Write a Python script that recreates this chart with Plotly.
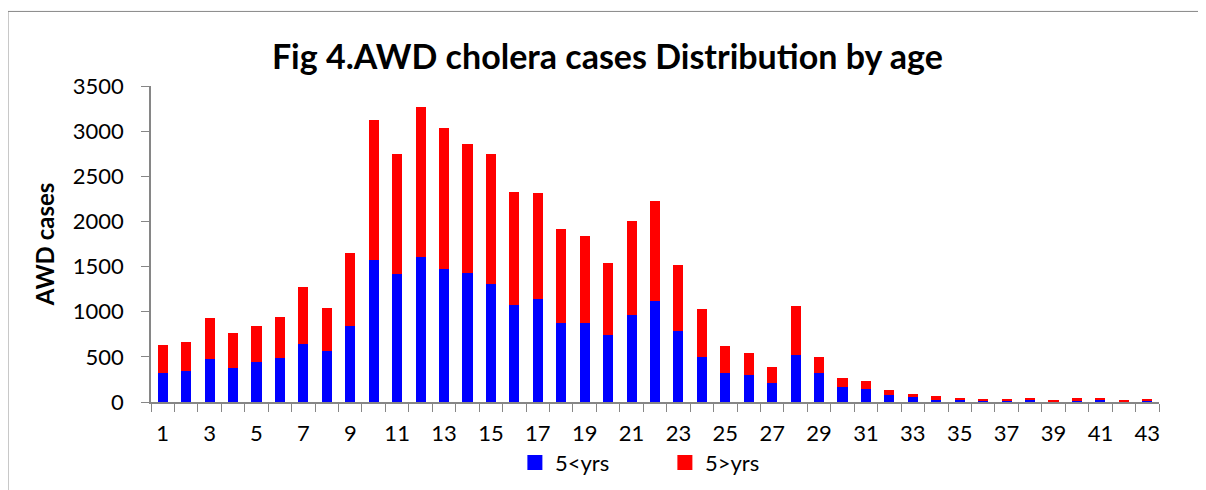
import plotly.graph_objects as go

ages = list(range(1, 44))
under5 = [320, 339, 475, 372, 446, 486, 637, 564, 840, 1573,
          1422, 1603, 1477, 1433, 1312, 1079, 1142, 880, 877, 740,
          965, 1116, 785, 501, 324, 295, 210, 523, 324, 162,
          147, 74, 52, 22, 18, 7, 15, 29, 11, 15,
          29, 7, 15]
totals = [626, 670, 925, 763, 840, 939, 1271, 1039, 1647, 3124,
          2748, 3268, 3036, 2859, 2745, 2321, 2310, 1912, 1835, 1536,
          2000, 2229, 1521, 1028, 615, 542, 383, 1065, 501, 262,
          232, 136, 92, 63, 48, 37, 26, 48, 22, 48,
          48, 18, 26]
over5 = [t - u for t, u in zip(totals, under5)]
tick_vals = list(range(1, 44, 2))
tick_text = [str(v) for v in tick_vals]
series_names = ["5<yrs", "5>yrs"]
series_colors = ["#0000FF", "#FF0000"]

FONT = "Lato"
AXIS = "#868686"

fig = go.Figure()
for vals, name, col in zip([under5, over5], series_names, series_colors):
    fig.add_trace(go.Bar(x=ages, y=vals, name=name, marker_color=col,
                         marker_line_width=0, showlegend=False, legendgroup=name))
# legend entries with square swatches like the reference
for name, col in zip(series_names, series_colors):
    fig.add_trace(go.Scatter(x=[None], y=[None], mode="markers", name=name,
                             legendgroup=name,
                             marker=dict(symbol="square", size=15, color=col)))

fig.update_layout(
    width=1206, height=490,
    barmode="stack", bargap=0.57,
    plot_bgcolor="white", paper_bgcolor="white",
    margin=dict(l=143, r=55, t=78, b=96, autoexpand=False),
    font=dict(family=FONT, color="black"),
    title=dict(text="<b>Fig 4.AWD cholera cases Distribution by age</b>",
               x=0.497, y=0.9, xanchor="center", yanchor="middle",
               font=dict(size=34, family=FONT, color="black")),
    showlegend=True,
    legend=dict(orientation="h", x=0.361, y=-0.192, xanchor="left", yanchor="middle",
                font=dict(size=22, family=FONT), entrywidth=105, entrywidthmode="pixels",
                bgcolor="rgba(0,0,0,0)", traceorder="normal", itemsizing="trace"),
)

fig.update_xaxes(
    range=[0.5, 43.5], tickmode="array", tickvals=tick_vals, ticktext=tick_text,
    ticks="", showline=True, linecolor=AXIS, linewidth=1.5, showgrid=False,
    zeroline=False, tickfont=dict(size=22, family=FONT), ticklabelstandoff=11,
    minor=dict(tickmode="linear", tick0=0.5, dtick=1, ticks="outside", ticklen=8,
               tickcolor=AXIS, tickwidth=1, showgrid=False),
    automargin=False,
)
fig.update_yaxes(
    range=[0, 3500], dtick=500, tick0=0, ticks="outside", ticklen=8, tickcolor=AXIS,
    tickwidth=1, showline=True, linecolor=AXIS, linewidth=1.5, showgrid=False,
    zeroline=False, tickfont=dict(size=22, family=FONT), ticklabelstandoff=13,
    automargin=False,
)

fig.add_annotation(text="<b>AWD cases</b>", textangle=-90, xref="paper", yref="paper",
                   x=-0.106, y=0.5, showarrow=False, xanchor="center", yanchor="middle",
                   font=dict(size=24, family=FONT, color="black"))

# outer chart border (extends past right and bottom edges as in the reference)
fig.add_shape(type="rect", xref="paper", yref="paper",
              x0=-0.1419, y0=-0.4, x1=1.1, y1=1.236,
              line=dict(color=AXIS, width=1), fillcolor="rgba(0,0,0,0)", layer="below")

fig.write_html("out.html")
